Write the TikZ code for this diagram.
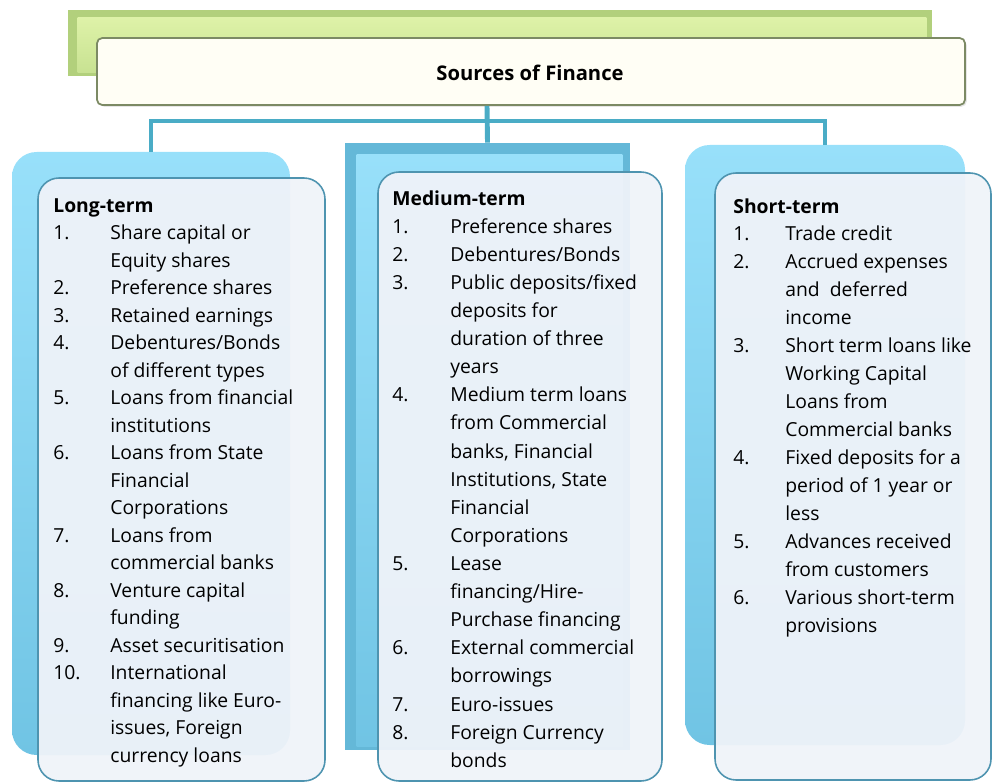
\documentclass[tikz,border=0pt]{standalone}
\usepackage{fontspec}
\setmainfont{Open Sans}
\usetikzlibrary{positioning,calc,fit,shadows}
\definecolor{sfGreenTop}{RGB}{222,242,168}
\definecolor{sfGreenMid}{RGB}{200,226,146}
\definecolor{sfGreenDark}{RGB}{178,208,124}
\definecolor{sfBlueTop}{RGB}{152,224,250}
\definecolor{sfBlueMid}{RGB}{112,196,228}
\definecolor{sfBlueDark}{RGB}{100,184,216}
\definecolor{sfLine}{RGB}{74,172,198}
\definecolor{sfFront}{RGB}{239,243,249}
\definecolor{sfEdge}{RGB}{78,148,176}
\definecolor{sfOlive}{RGB}{124,138,100}

\newlength\itemw
\newcommand\itemno[1]{\makebox[\itemw][l]{#1}}

\tikzset{
  backbox/.style={inner sep=0pt, rounded corners=14pt, top color=sfBlueTop, bottom color=sfBlueMid},
  bevelbox/.style={inner sep=0pt, fill=sfBlueDark},
  frontbox/.style={inner sep=0pt, rounded corners=12pt, draw=sfEdge, line width=0.9pt, fill=sfFront, fill opacity=0.95},
  link/.style={draw=sfLine, line width=2.8pt},
  listtext/.style={inner sep=0pt, anchor=north west, align=left,
    font=\fontsize{11}{15.65}\selectfont, execute at begin node={\setlength\itemw{#1}}}
}

\begin{document}
\begin{tikzpicture}[x=0.02cm, y=-0.02cm]
  \useasboundingbox (0,0) rectangle (993,783);

  % Title
  \node[inner sep=0pt, fill=sfGreenDark, fit={(68,10) (932,76)}] (titleBack) {};
  \shade[top color=sfGreenTop, bottom color=sfGreenMid]
    ($(titleBack.north west)+(10,8)$) rectangle ($(titleBack.south east)+(-6,-4)$);
  \node[inner sep=0pt, rounded corners=3pt, draw=sfOlive, line width=1pt, fill=white!96!yellow,
        drop shadow={opacity=0.2, shadow xshift=1pt, shadow yshift=-1pt},
        fit={(97,38) (965,105)}] (title) {};
  \node[font=\fontsize{11.5}{14}\selectfont\bfseries] (titleText) at (530,73) {Sources of Finance};

  % Back boxes
  \node[backbox, fit={(12,152) (290,755)}] (longBack) {};
  \node[bevelbox, fit={(345,143) (630,750)}] (midBack) {};
  \shade[top color=sfBlueTop, bottom color=sfBlueMid]
    ($(midBack.north west)+(12,12)$) rectangle ($(midBack.south east)+(-8,-4)$);
  \node[backbox, fit={(685,145) (965,745)}] (shortBack) {};

  % Connectors
  \coordinate (hub) at (487,121);
  \draw[link] (hub |- title.south) -- (midBack.north);
  \draw[link] (hub) -| (longBack.north);
  \draw[link] (hub) -| (shortBack.north);

  % Front boxes
  \node[frontbox, fit={(38,178) (325,781)}] (longFront) {};
  \node[frontbox, fit={(378,172) (662,781)}] (midFront) {};
  \node[frontbox, fit={(715,173) (991,780)}] (shortFront) {};

  % Lists
  \node[listtext=1.14cm] (longList) at (53,198) {\textbf{Long-term}\\
    \itemno{1.}Share capital or\\
    \itemno{}Equity shares\\
    \itemno{2.}Preference shares\\
    \itemno{3.}Retained earnings\\
    \itemno{4.}Debentures/Bonds\\
    \itemno{}of different types\\
    \itemno{5.}Loans from financial\\
    \itemno{}institutions\\
    \itemno{6.}Loans from State\\
    \itemno{}Financial\\
    \itemno{}Corporations\\
    \itemno{7.}Loans from\\
    \itemno{}commercial banks\\
    \itemno{8.}Venture capital\\
    \itemno{}funding\\
    \itemno{9.}Asset securitisation\\
    \itemno{10.}International\\
    \itemno{}financing like Euro-\\
    \itemno{}issues, Foreign\\
    \itemno{}currency loans};

  \node[listtext=1.16cm, font=\fontsize{11}{16}\selectfont] (midList) at (392,190) {\textbf{Medium-term}\\
    \itemno{1.}Preference shares\\
    \itemno{2.}Debentures/Bonds\\
    \itemno{3.}Public deposits/fixed\\
    \itemno{}deposits for\\
    \itemno{}duration of three\\
    \itemno{}years\\
    \itemno{4.}Medium term loans\\
    \itemno{}from Commercial\\
    \itemno{}banks, Financial\\
    \itemno{}Institutions, State\\
    \itemno{}Financial\\
    \itemno{}Corporations\\
    \itemno{5.}Lease\\
    \itemno{}financing/Hire-\\
    \itemno{}Purchase financing\\
    \itemno{6.}External commercial\\
    \itemno{}borrowings\\
    \itemno{7.}Euro-issues\\
    \itemno{8.}Foreign Currency\\
    \itemno{}bonds};

  \node[listtext=1.04cm, font=\fontsize{11}{15.9}\selectfont] (shortList) at (733,198) {\textbf{Short-term}\\
    \itemno{1.}Trade credit\\
    \itemno{2.}Accrued expenses\\
    \itemno{}and~ deferred\\
    \itemno{}income\\
    \itemno{3.}Short term loans like\\
    \itemno{}Working Capital\\
    \itemno{}Loans from\\
    \itemno{}Commercial banks\\
    \itemno{4.}Fixed deposits for a\\
    \itemno{}period of 1 year or\\
    \itemno{}less\\
    \itemno{5.}Advances received\\
    \itemno{}from customers\\
    \itemno{6.}Various short-term\\
    \itemno{}provisions};
\end{tikzpicture}
\end{document}
